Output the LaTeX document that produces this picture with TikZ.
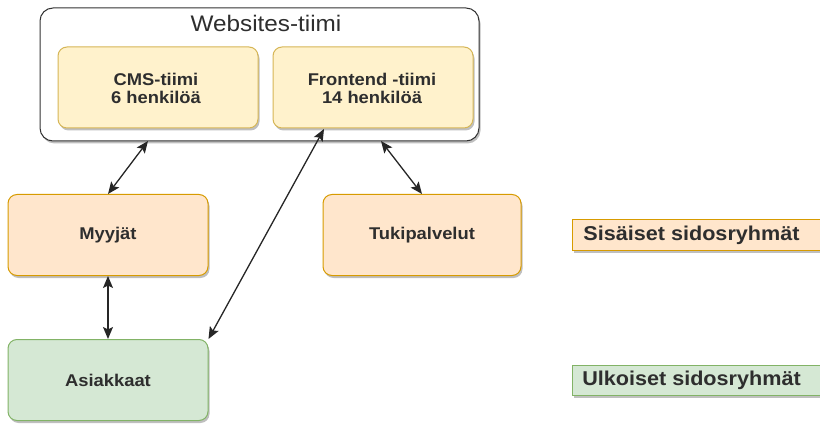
\documentclass[tikz,border=0pt]{standalone}
\usepackage{fontspec}
\setmainfont{Liberation Sans}[FakeStretch=1.08]
\usetikzlibrary{shadows,arrows.meta}
\definecolor{yfill}{HTML}{FFF2CC}
\definecolor{ydraw}{HTML}{D6B656}
\definecolor{ofill}{HTML}{FFE6CC}
\definecolor{odraw}{HTML}{D79B00}
\definecolor{gfill}{HTML}{D5E8D4}
\definecolor{gdraw}{HTML}{82B366}
\definecolor{txt}{HTML}{2E2E2E}
\tikzset{
  x=1pt, y=-1pt,
  sh/.style={drop shadow={shadow xshift=1.5pt, shadow yshift=-2.5pt, opacity=0.25, fill=black}},
  box/.style={rounded corners=9pt, line width=1pt, sh},
  team/.style={box, fill=yfill, draw=ydraw},
  teamtext/.style={text=txt, font=\bfseries\fontsize{17}{18}\selectfont, align=center},
  inner/.style={box, fill=ofill, draw=odraw, text=txt, font=\bfseries\fontsize{17}{19}\selectfont},
  outer/.style={box, fill=gfill, draw=gdraw, text=txt, font=\bfseries\fontsize{17}{19}\selectfont},
  legend/.style={line width=1pt, text=txt, font=\bfseries\fontsize{20}{22}\selectfont, sh},
  tip/.style={Stealth[length=12pt,width=10pt,inset=2.5pt]},
  link/.style={line width=1.3pt, draw=black!85, {Stealth[length=12pt,width=10pt,inset=2.5pt]}-{Stealth[length=12pt,width=10pt,inset=2.5pt]}}
}
\begin{document}
\begin{tikzpicture}
\useasboundingbox (0,0) rectangle (820,425);
% Websites team frame
\draw[box, fill=white, draw=black!80, rounded corners=13pt] (40,8) rectangle (479,141);
\node[text=txt, font=\fontsize{22.5}{24}\selectfont] (title) at (266,23) {Websites-tiimi};
\coordinate (wsl) at (148,141);
\coordinate (wsr) at (381,141);
% sub-teams
\draw[team] (58,47) rectangle (258,128);
\node[teamtext] (cms) at (156,88) {CMS-tiimi\\6 henkilöä};
\draw[team] (273,47) rectangle (473,128);
\node[teamtext] (fe) at (372,88) {Frontend -tiimi\\14 henkilöä};
\coordinate (feb) at (324,129);
% stakeholders
\node[inner, minimum width=200pt, minimum height=81pt] (myy) at (108,235) {Myyjät};
\node[inner, minimum width=198pt, minimum height=81pt] (tuki) at (422,235) {Tukipalvelut};
\node[outer, minimum width=200pt, minimum height=81pt] (asi) at (108,380) {Asiakkaat};
% legend
\node[legend, fill=ofill, draw=odraw, minimum width=250pt, minimum height=30pt, inner sep=0pt, anchor=west] (lin) at (572,235) {\hspace*{-12pt}Sisäiset sidosryhmät};
\node[legend, fill=gfill, draw=gdraw, minimum width=250pt, minimum height=30pt, inner sep=0pt, anchor=west] (lout) at (572,380) {\hspace*{-12pt}Ulkoiset sidosryhmät};
% connectors
\draw[link] (wsl) -- (myy.north);
\draw[link] (wsr) -- (tuki.north);
\draw[link] (myy.south) -- (asi.north);
\draw[link] (feb) -- (asi.north east);
\end{tikzpicture}
\end{document}
